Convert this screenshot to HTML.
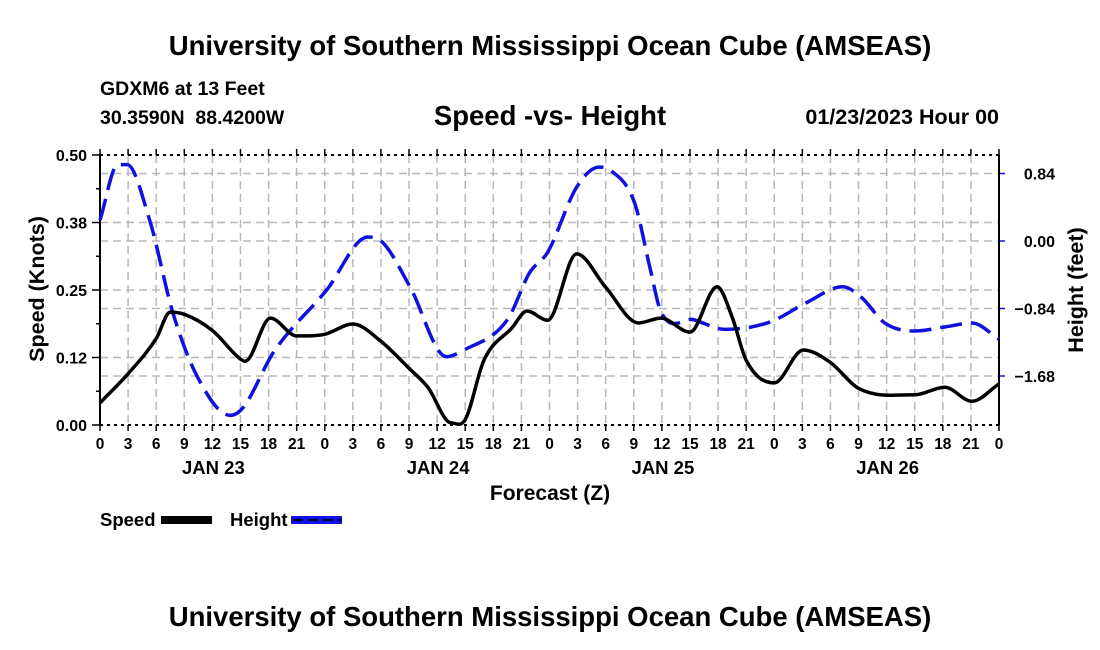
<!DOCTYPE html>
<html><head><meta charset="utf-8"><style>
html,body{margin:0;padding:0;background:#fff}
svg{display:block;font-family:"Liberation Sans",Arial,sans-serif;font-weight:bold}
</style></head><body>
<svg id="chart" width="1100" height="650" viewBox="0 0 1100 650">
<text x="550" y="55" font-size="27.5" text-anchor="middle">University of Southern Mississippi Ocean Cube (AMSEAS)</text>
<text x="100" y="95" font-size="19.5">GDXM6 at 13 Feet</text>
<text x="100" y="124" font-size="19.5" xml:space="preserve">30.3590N  88.4200W</text>
<text x="550" y="125" font-size="27.5" text-anchor="middle">Speed -vs- Height</text>
<text x="999" y="124" font-size="21.5" text-anchor="end">01/23/2023 Hour 00</text>
<g id="grid"></g>
<g id="axes"></g>
<g id="series"></g>
<text transform="translate(44,289) rotate(-90)" font-size="21.5" text-anchor="middle">Speed (Knots)</text>
<text transform="translate(1083,290) rotate(-90)" font-size="21.5" text-anchor="middle">Height (feet)</text>
<text x="550" y="500" font-size="21" text-anchor="middle">Forecast (Z)</text>
<g>
<text x="100" y="526" font-size="18.5">Speed</text>
<rect x="161" y="516" width="51" height="8" fill="#000"/>
<text x="230" y="526" font-size="18.5">Height</text>
<rect x="291" y="516" width="51" height="8" fill="#1010e0"/>
<line x1="293" y1="520" x2="342" y2="520" stroke="#000033" stroke-width="2" stroke-dasharray="10,5"/>
</g>
<text x="550" y="626" font-size="27.5" text-anchor="middle">University of Southern Mississippi Ocean Cube (AMSEAS)</text>
</svg>
<script>
const speedHours=[0,3,6,7.5,9,12,15,15.5,18.2,21,24,27,30,33,35,37.5,39,41,44,45.6,47.8,50.9,54,57.5,59.9,63,65.9,67.5,69,72,75.1,77.9,81.1,87,90.2,93.1,96];
const speedValues=[0.041,0.095,0.16,0.209,0.205,0.175,0.122,0.118,0.198,0.165,0.168,0.187,0.155,0.105,0.07,0.004,0.01,0.12,0.18,0.211,0.194,0.317,0.255,0.189,0.198,0.172,0.256,0.2,0.12,0.078,0.139,0.117,0.067,0.056,0.07,0.044,0.076];
const heightHours=[0,1.9,2.9,5.3,7.8,10.4,13.9,15.3,18.5,24.2,28.6,30.2,33.1,37,38.8,43.5,45.9,47.8,50.9,53.3,54.5,57.1,58.7,59.9,63.4,66.8,71.5,75.4,79.3,81.3,83.8,87,90.2,93.1,96];
const heightValues=[0.26,0.95,0.95,0.26,-0.9,-1.69,-2.17,-2.07,-1.39,-0.61,0.05,-0.02,-0.57,-1.44,-1.36,-0.98,-0.39,-0.14,0.67,0.92,0.88,0.47,-0.32,-0.88,-0.98,-1.1,-1.01,-0.77,-0.57,-0.7,-1.02,-1.12,-1.07,-1.02,-1.22];
const xTickLabels=["0","3","6","9","12","15","18","21","0","3","6","9","12","15","18","21","0","3","6","9","12","15","18","21","0","3","6","9","12","15","18","21","0"];
const dayLabels=["JAN 23","JAN 24","JAN 25","JAN 26"];
const leftTicks=[0,0.125,0.25,0.375,0.5];
const leftTickLabels=["0.00","0.12","0.25","0.38","0.50"];
const rightTicks=[0.84,0,-0.84,-1.68];
const rightTickLabels=["0.84","0.00","\u22120.84","\u22121.68"];

const X0=100,X1=999,Y0=425,Y1=155;
const xs=h=>X0+h/96*(X1-X0);
const ys=v=>Y0-v/0.5*(Y0-Y1);
const yr=v=>241-v/0.84*67.5;
const NS='http://www.w3.org/2000/svg';
function mk(parent,tag,attrs){const e=document.createElementNS(NS,tag);for(const k in attrs)e.setAttribute(k,attrs[k]);parent.appendChild(e);return e;}
const grid=document.getElementById('grid'),axes=document.getElementById('axes'),series=document.getElementById('series');
const gs={stroke:'#b8b8b8','stroke-width':1.5,'stroke-dasharray':'8,5'};
xTickLabels.forEach((t,i)=>{
  const x=xs(i*3);
  if(i>0&&i<32){const g=mk(grid,'line',Object.assign({x1:x,x2:x,y1:Y1,y2:Y0},gs));
  
  }
  mk(axes,'line',{x1:x,x2:x,y1:Y0,y2:Y0+6,stroke:'#000','stroke-width':1.5});
  mk(axes,'line',{x1:x,x2:x,y1:Y1,y2:Y1-6,stroke:'#000','stroke-width':1.5});
  const l=mk(axes,'text',{x:x,y:449,'font-size':15.5,'text-anchor':'middle'});l.textContent=t;
  
  
});
dayLabels.forEach((d,i)=>{const l=mk(axes,'text',{x:xs(12+24*i)+1,y:474,'font-size':18.5,'text-anchor':'middle'});l.textContent=d;
  
  });
leftTicks.forEach((v,i)=>{const y=ys(v);
  if(i>0&&i<4){const g=mk(grid,'line',Object.assign({x1:X0,x2:X1,y1:y,y2:y},gs));
  
  }
  mk(axes,'line',{x1:X0-8,x2:X0,y1:y,y2:y,stroke:'#000','stroke-width':1.5});
  if(i<4) mk(axes,'line',{x1:X0-4,x2:X0,y1:ys(v+0.0625),y2:ys(v+0.0625),stroke:'#000','stroke-width':1.5});
  const l=mk(axes,'text',{x:X0-13,y:y+6,'font-size':16,'text-anchor':'end'});l.textContent=leftTickLabels[i];
  
  });
rightTicks.forEach((v,i)=>{const y=yr(v);
  const g=mk(grid,'line',Object.assign({x1:X0,x2:X1,y1:y,y2:y},gs));
  
  
  mk(axes,'line',{x1:X1,x2:X1+6,y1:y,y2:y,stroke:'#1010e0','stroke-width':1.5});
  const l=mk(axes,'text',{x:X1+56,y:y+6,'font-size':16,'text-anchor':'end'});l.textContent=rightTickLabels[i];
  
  });
mk(axes,'line',{x1:X0,x2:X0,y1:Y1,y2:Y0,stroke:'#000','stroke-width':2});
mk(axes,'line',{x1:X1,x2:X1,y1:Y1,y2:Y0,stroke:'#000','stroke-width':2});
mk(axes,'line',{x1:X0,x2:X1,y1:Y1,y2:Y1,stroke:'#000','stroke-width':2,'stroke-dasharray':'3,4'});
mk(axes,'line',{x1:X0,x2:X1,y1:Y0,y2:Y0,stroke:'#000','stroke-width':2,'stroke-dasharray':'3,4'});
function smooth(pts){
  const n=pts.length,m=[];
  for(let i=0;i<n;i++){
    if(i===0)m.push((pts[1][1]-pts[0][1])/(pts[1][0]-pts[0][0]));
    else if(i===n-1)m.push((pts[n-1][1]-pts[n-2][1])/(pts[n-1][0]-pts[n-2][0]));
    else{const a=(pts[i][1]-pts[i-1][1])/(pts[i][0]-pts[i-1][0]),b=(pts[i+1][1]-pts[i][1])/(pts[i+1][0]-pts[i][0]);
      m.push(a*b<=0?0:(a+b)/2);}
  }
  let d=`M${pts[0][0]},${pts[0][1]}`;
  for(let i=0;i<n-1;i++){const dx=pts[i+1][0]-pts[i][0];
    d+=` C${pts[i][0]+dx/3},${pts[i][1]+m[i]*dx/3} ${pts[i+1][0]-dx/3},${pts[i+1][1]-m[i+1]*dx/3} ${pts[i+1][0]},${pts[i+1][1]}`;}
  return d;}
const hp=mk(series,'path',{d:smooth(heightHours.map((h,i)=>[xs(h),yr(heightValues[i])])),fill:'none',stroke:'#1010e0','stroke-width':3.5,'stroke-dasharray':'22,9'});


const sp=mk(series,'path',{d:smooth(speedHours.map((h,i)=>[xs(h),ys(speedValues[i])])),fill:'none',stroke:'#000','stroke-width':3.5,'stroke-linejoin':'round'});


</script>
</body></html>
